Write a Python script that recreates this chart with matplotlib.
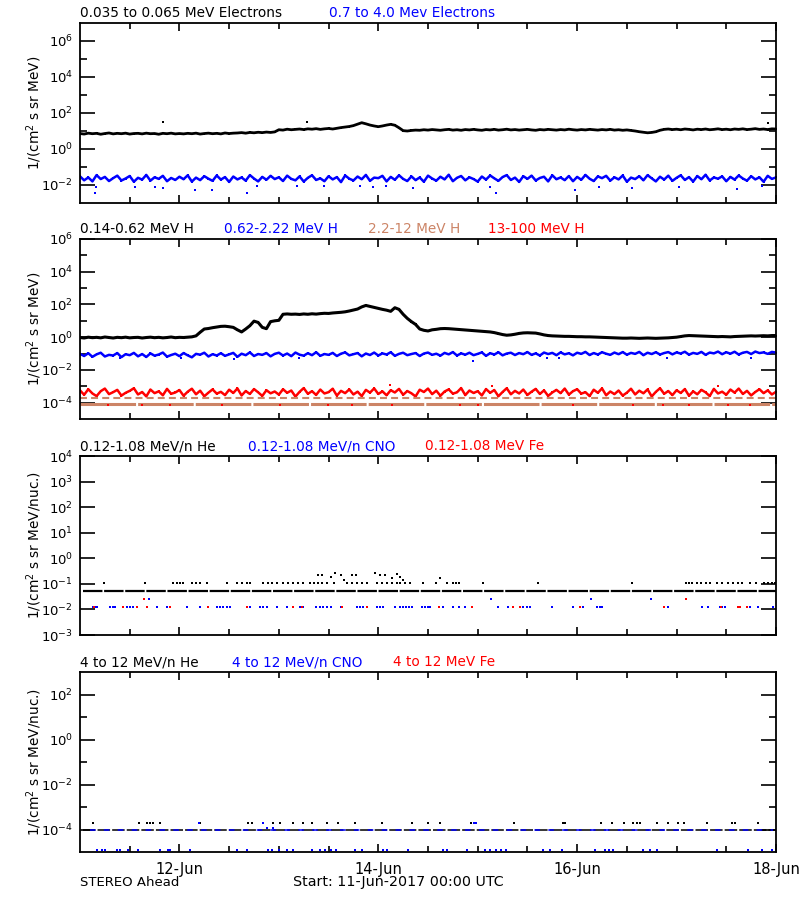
import numpy as np
from matplotlib import pyplot as plt
from matplotlib.ticker import NullFormatter, NullLocator

plt.rcParams['font.family'] = ['DejaVu Sans']
plt.rcParams['mathtext.fontset'] = 'dejavusans'
plt.rcParams['lines.scale_dashes'] = False

"""Section 1: Data (log10 of flux, read off the reference)"""
# hourly samples from 11-Jun 00:00 to 18-Jun 00:00
hours = np.arange(169)

elec_lo = [
    0.86, 0.83, 0.88, 0.85, 0.87, 0.82, 0.86, 0.89, 0.84, 0.87, 0.85, 0.88,
    0.83, 0.86, 0.87, 0.84, 0.88, 0.85, 0.86, 0.82, 0.87, 0.85, 0.88, 0.84,
    0.86, 0.84, 0.87, 0.85, 0.88, 0.83, 0.86, 0.88, 0.85, 0.87, 0.84, 0.89,
    0.86, 0.88, 0.89, 0.91, 0.88, 0.92, 0.90, 0.93, 0.91, 0.94, 0.92, 0.95,
    1.07, 1.05, 1.10, 1.07, 1.09, 1.11, 1.08, 1.12, 1.10, 1.13, 1.09, 1.12,
    1.14, 1.11, 1.15, 1.19, 1.22, 1.25, 1.30, 1.38, 1.46, 1.40, 1.33, 1.28,
    1.24, 1.28, 1.33, 1.37, 1.32, 1.18, 1.02, 1.00, 1.03, 1.05, 1.04, 1.07,
    1.05, 1.08, 1.06, 1.04, 1.07, 1.09, 1.05, 1.07, 1.04, 1.08, 1.06, 1.09,
    1.06, 1.04, 1.08, 1.06, 1.09, 1.05, 1.07, 1.10, 1.06, 1.08, 1.05, 1.07,
    1.09, 1.06, 1.04, 1.08, 1.06, 1.09, 1.07, 1.05, 1.08, 1.06, 1.10, 1.07,
    1.05, 1.08, 1.06, 1.09, 1.07, 1.05, 1.08, 1.06, 1.09, 1.05, 1.07, 1.04,
    1.06, 1.03, 1.00, 0.96, 0.93, 0.90, 0.92, 0.96, 1.04, 1.09, 1.11, 1.08,
    1.10, 1.07, 1.11, 1.09, 1.06, 1.10, 1.08, 1.11, 1.07, 1.09, 1.12, 1.08,
    1.10, 1.07, 1.11, 1.09, 1.12, 1.08, 1.10, 1.13, 1.09, 1.11, 1.08, 1.12, 1.11,
]
elec_lo_spike_t = [0.83, 2.28, 6.92]
elec_lo_spike_v = [1.50, 1.50, 1.43]

elec_hi = [
    -1.52, -1.74, -1.58, -1.80, -1.45, -1.67, -1.55, -1.78, -1.62, -1.48, -1.75, -1.64,
    -1.50, -1.82, -1.60, -1.70, -1.44, -1.76, -1.57, -1.66, -1.49, -1.79, -1.61, -1.72,
    -1.54, -1.68, -1.46, -1.81, -1.59, -1.73, -1.51, -1.65, -1.77, -1.47, -1.70, -1.56,
    -1.83, -1.53, -1.69, -1.58, -1.76, -1.45, -1.64, -1.80, -1.55, -1.71, -1.49, -1.67,
    -1.57, -1.78, -1.48, -1.66, -1.74, -1.52, -1.81, -1.60, -1.46, -1.72, -1.63, -1.79,
    -1.51, -1.69, -1.56, -1.84, -1.47, -1.65, -1.75, -1.53, -1.68, -1.44, -1.77, -1.59,
    -1.62, -1.49, -1.80, -1.55, -1.71, -1.46, -1.66, -1.78, -1.52, -1.73, -1.58, -1.82,
    -1.48, -1.64, -1.76, -1.54, -1.69, -1.43, -1.79, -1.60, -1.50, -1.74, -1.57, -1.67,
    -1.81, -1.53, -1.70, -1.47, -1.63, -1.77, -1.56, -1.45, -1.72, -1.59, -1.83, -1.51,
    -1.66, -1.48, -1.75, -1.61, -1.54, -1.80, -1.46, -1.68, -1.58, -1.73, -1.50, -1.79,
    -1.55, -1.71, -1.44, -1.65, -1.78, -1.52, -1.62, -1.49, -1.76, -1.57, -1.69, -1.47,
    -1.82, -1.59, -1.67, -1.51, -1.74, -1.45, -1.63, -1.80, -1.54, -1.70, -1.48, -1.77,
    -1.60, -1.46, -1.72, -1.56, -1.81, -1.50, -1.68, -1.43, -1.75, -1.58, -1.65, -1.52,
    -1.79, -1.55, -1.70, -1.47, -1.64, -1.76, -1.51, -1.69, -1.57, -1.82, -1.49, -1.66, -1.58,
]
elec_hi_low_t = [0.15, 0.16, 0.55, 0.75, 0.83, 1.16, 1.33, 1.68, 1.78, 2.18, 2.45,
                 2.82, 2.95, 3.08, 3.35, 4.12, 4.18, 4.98, 5.22, 5.55, 6.02, 6.61, 6.86]
elec_hi_low_v = [-2.44, -2.13, -2.13, -2.13, -2.16, -2.28, -2.28, -2.44, -2.05, -2.05, -2.05,
                 -2.05, -2.10, -2.05, -2.15, -2.13, -2.44, -2.28, -2.13, -2.16, -2.13, -2.20, -2.05]

prot_lo = [
    -0.02, -0.05, 0.00, -0.03, -0.01, -0.04, 0.01, -0.02, -0.05, -0.01, -0.03, 0.00,
    -0.04, -0.02, -0.01, -0.05, -0.02, 0.00, -0.03, -0.01, -0.04, -0.02, 0.01, -0.03,
    -0.01, -0.02, 0.00, 0.02, 0.08, 0.30, 0.50, 0.53, 0.58, 0.62, 0.66, 0.67,
    0.64, 0.60, 0.45, 0.32, 0.50, 0.70, 0.98, 0.90, 0.60, 0.52, 0.95, 1.00,
    1.03, 1.40, 1.42, 1.40, 1.41, 1.39, 1.42, 1.40, 1.43, 1.41, 1.44, 1.46,
    1.45, 1.48, 1.50, 1.52, 1.55, 1.60, 1.66, 1.72, 1.85, 1.94, 1.88, 1.82,
    1.76, 1.70, 1.65, 1.58, 1.80, 1.70, 1.40, 1.15, 0.95, 0.78, 0.50, 0.42,
    0.38, 0.45, 0.48, 0.52, 0.53, 0.52, 0.50, 0.48, 0.46, 0.44, 0.42, 0.40,
    0.38, 0.36, 0.34, 0.32, 0.28, 0.22, 0.16, 0.12, 0.14, 0.18, 0.23, 0.26,
    0.27, 0.26, 0.25, 0.20, 0.14, 0.10, 0.08, 0.07, 0.06, 0.05, 0.05, 0.04,
    0.03, 0.03, 0.02, 0.02, 0.01, 0.00, -0.01, -0.02, -0.03, -0.04, -0.05, -0.06,
    -0.06, -0.05, -0.06, -0.07, -0.06, -0.05, -0.06, -0.07, -0.06, -0.05, -0.04, -0.02,
    0.00, 0.04, 0.08, 0.10, 0.09, 0.08, 0.07, 0.06, 0.05, 0.04, 0.03, 0.04,
    0.03, 0.02, 0.04, 0.05, 0.06, 0.07, 0.08, 0.07, 0.08, 0.09, 0.08, 0.10, 0.10,
]

prot_mid = [
    -1.02, -1.15, -0.98, -1.20, -1.05, -0.95, -1.18, -1.08, -1.12, -0.97, -1.22, -1.04,
    -1.10, -0.96, -1.17, -1.03, -1.21, -0.99, -1.13, -1.06, -0.94, -1.19, -1.09, -1.01,
    -1.16, -0.97, -1.11, -1.23, -1.02, -1.07, -0.95, -1.18, -1.04, -1.12, -0.98, -1.14,
    -1.05, -0.96, -1.20, -1.01, -1.10, -0.93, -1.15, -1.03, -1.08, -0.97, -1.17, -1.02,
    -0.95, -1.12, -1.00, -1.16, -0.94, -1.07, -1.13, -0.98, -1.10, -0.92, -1.14, -1.03,
    -1.08, -0.96, -1.15, -1.01, -0.93, -1.11, -1.04, -0.97, -1.17, -1.00, -1.09, -0.94,
    -1.12, -0.99, -1.06, -0.92, -1.14, -1.02, -0.95, -1.10, -1.03, -0.97, -1.15, -1.00,
    -0.94, -1.08, -1.01, -1.13, -0.96, -1.05, -0.91, -1.12, -0.99, -1.07, -0.95, -1.10,
    -1.02, -0.93, -1.14, -0.98, -1.06, -0.92, -1.11, -1.00, -0.95, -1.09, -0.97, -1.04,
    -0.91, -1.08, -0.99, -1.12, -0.94, -1.03, -0.96, -1.10, -0.93, -1.05, -0.98, -1.11,
    -0.95, -1.02, -0.90, -1.09, -0.97, -1.06, -0.92, -1.01, -1.08, -0.94, -1.04, -0.91,
    -1.07, -0.96, -1.02, -0.90, -1.10, -0.95, -1.03, -0.92, -1.06, -0.97, -0.91, -1.05,
    -0.93, -1.00, -0.89, -1.07, -0.96, -1.02, -0.90, -1.08, -0.94, -0.99, -0.88, -1.04,
    -0.92, -1.01, -0.89, -1.06, -0.95, -0.90, -1.03, -0.88, -0.97, -0.93, -1.02, -0.90, -0.94,
]
prot_mid_low_t = [0.40, 1.02, 1.55, 2.20, 3.95, 4.70, 4.82, 5.90, 6.75]
prot_mid_low_v = [-1.30, -1.28, -1.32, -1.27, -1.45, -1.30, -1.28, -1.30, -1.30]

prot_top = [
    -3.25, -3.52, -3.18, -3.44, -3.60, -3.30, -3.14, -3.48, -3.36, -3.22, -3.57, -3.40,
    -3.28, -3.12, -3.50, -3.35, -3.62, -3.20, -3.42, -3.31, -3.55, -3.16, -3.46, -3.38,
    -3.23, -3.58, -3.33, -3.15, -3.49, -3.27, -3.61, -3.39, -3.19, -3.45, -3.34, -3.54,
    -3.21, -3.41, -3.13, -3.56, -3.29, -3.47, -3.17, -3.37, -3.59, -3.24, -3.43, -3.32,
    -3.51, -3.18, -3.40, -3.26, -3.63, -3.34, -3.11, -3.46, -3.30, -3.53, -3.20, -3.44,
    -3.36, -3.15, -3.57, -3.28, -3.42, -3.19, -3.50, -3.33, -3.60, -3.22, -3.39, -3.13,
    -3.47, -3.31, -3.55, -3.24, -3.38, -3.16, -3.52, -3.29, -3.43, -3.62, -3.21, -3.35,
    -3.14, -3.48, -3.27, -3.58, -3.32, -3.19, -3.45, -3.37, -3.11, -3.54, -3.26, -3.41,
    -3.30, -3.56, -3.17, -3.40, -3.23, -3.61, -3.35, -3.12, -3.49, -3.28, -3.44, -3.20,
    -3.53, -3.33, -3.16, -3.47, -3.25, -3.59, -3.38, -3.22, -3.42, -3.14, -3.51, -3.30,
    -3.18, -3.45, -3.36, -3.60, -3.21, -3.40, -3.13, -3.55, -3.32, -3.48, -3.26, -3.57,
    -3.39, -3.15, -3.50, -3.27, -3.43, -3.19, -3.62, -3.34, -3.12, -3.46, -3.29, -3.54,
    -3.24, -3.41, -3.17, -3.58, -3.31, -3.49, -3.22, -3.37, -3.60, -3.16, -3.44, -3.33,
    -3.52, -3.20, -3.39, -3.14, -3.47, -3.28, -3.56, -3.35, -3.18, -3.42, -3.25, -3.50, -3.34,
]
prot_top_low_t = [0.28, 0.62, 0.91, 1.43, 2.01, 2.49, 2.74, 3.14,
                  3.82, 4.00, 4.96, 5.56, 5.86, 6.12, 6.52, 6.74]
prot_top_high_t = [3.12, 4.14, 6.42]
prot_top_high_v = [-2.94, -3.00, -3.00]

# 2.2-12 MeV H sits on two count-floor levels
prot_hi_levels = [-3.71, -4.06]
prot_top_low_level = -4.15

# 0.12-1.08 MeV/n heavy ions
he_lo_level = -1.26
he_lo_step_t = [
    0.24, 0.65, 0.94, 0.98, 1.01, 1.04, 1.13, 1.17, 1.21, 1.28, 1.48, 1.58, 1.63,
    1.68, 1.71, 1.84, 1.89, 1.93, 1.98, 2.04, 2.09, 2.14, 2.19, 2.24, 2.31, 2.35,
    2.39, 2.43, 2.48, 2.55, 2.69, 2.74, 2.79, 2.84, 2.89, 2.99, 3.04, 3.09, 3.14,
    3.19, 3.22, 3.27, 3.32, 3.45, 3.58, 3.69, 3.75, 3.78, 3.81, 4.05, 4.61, 5.55,
    6.09, 6.12, 6.16, 6.21, 6.25, 6.30, 6.34, 6.41, 6.46, 6.52, 6.57, 6.62, 6.66,
    6.74, 6.80, 6.88, 6.92, 6.96, 6.99,
]
he_lo_step_level = -0.95
he_lo_high_t = [2.39, 2.43, 2.52, 2.56, 2.62, 2.66, 2.74, 2.78,
                2.97, 3.02, 3.07, 3.14, 3.19, 3.22, 3.25, 3.62]
he_lo_high_v = [-0.65, -0.65, -0.73, -0.57, -0.65, -0.84, -0.65, -0.65,
                -0.57, -0.65, -0.65, -0.77, -0.62, -0.73, -0.84, -0.77]
cno_lo_t = [
    0.13, 0.15, 0.17, 0.30, 0.33, 0.35, 0.47, 0.50, 0.53, 0.57, 0.67, 0.77, 0.88,
    0.91, 1.08, 1.21, 1.38, 1.41, 1.44, 1.48, 1.51, 1.68, 1.71, 1.81, 1.84, 1.88,
    1.98, 2.08, 2.14, 2.21, 2.24, 2.37, 2.41, 2.44, 2.48, 2.52, 2.62, 2.79, 2.82,
    2.85, 2.89, 2.99, 3.02, 3.05, 3.17, 3.22, 3.25, 3.28, 3.31, 3.34, 3.44, 3.47,
    3.50, 3.52, 3.61, 3.65, 3.75, 3.81, 3.87, 4.20, 4.30, 4.43, 4.46, 4.50, 4.53,
    4.75, 4.96, 5.06, 5.20, 5.23, 5.25, 5.87, 5.91, 6.26, 6.32, 6.44, 6.46, 6.49,
    6.64, 6.74, 6.82, 6.97,
]
fe_lo_t = [0.14, 0.43, 0.57, 0.67, 0.91, 1.29, 1.68, 2.14, 2.23, 2.64, 2.89,
           3.61, 3.94, 4.35, 4.43, 5.03, 5.87, 6.45, 6.62, 6.64, 6.71]
heavy_lo_level = -1.92
cno_lo_up_t = [0.69, 4.13, 5.14, 5.74]
fe_lo_up_t = [0.64, 6.09]
heavy_lo_up_level = -1.61

# 4-12 MeV/n heavy ions
he_hi_level = -4.0
he_hi_step_t = [
    0.13, 0.59, 0.67, 0.70, 0.73, 0.80, 1.21, 1.69, 1.73, 1.84, 1.94, 2.01, 2.14,
    2.24, 2.33, 2.48, 2.59, 2.77, 3.04, 3.34, 3.50, 3.62, 3.93, 4.36, 4.86, 4.88,
    5.24, 5.35, 5.47, 5.56, 5.60, 5.63, 5.80, 5.91, 6.01, 6.07, 6.31, 6.56, 6.59, 6.82,
]
he_hi_step_level = -3.72
cno_hi_step_t = [1.20, 1.84, 3.96, 3.98]
cno_hi_mid_t = [1.88, 1.94]
cno_hi_mid_level = -3.94
cno_hi_low_t = [
    0.17, 0.22, 0.25, 0.37, 0.40, 0.48, 0.58, 0.80, 0.89, 0.91, 1.11, 1.58, 1.68,
    1.89, 1.93, 2.00, 2.08, 2.14, 2.33, 2.41, 2.46, 2.52, 2.57, 2.77, 2.84, 3.05,
    3.09, 3.30, 3.65, 3.69, 3.89, 4.07, 4.12, 4.18, 4.23, 4.28, 4.66, 4.73, 4.85,
    5.18, 5.28, 5.32, 5.36, 5.66, 5.73, 5.80, 6.41, 6.72, 6.86, 6.96,
]
cno_hi_low_level = -4.9

date_ticks = [1, 3, 5, 7]
date_labels = ["12-Jun", "14-Jun", "16-Jun", "18-Jun"]

"""Section 2: Figure layout"""
W, H = 800, 900
BLUE = "#0000ff"
RED = "#ff0000"
SIENNA = "#cc8466"

fig = plt.figure(figsize=(W / 100, H / 100), dpi=100)


def px_axes(top, bottom):
    return fig.add_axes([80 / W, 1 - bottom / H, 696 / W, (bottom - top) / H])


def style_axes(ax, ylim, major, minor, show_dates=False):
    ax.set_xlim(0, 7)
    ax.set_yscale("log")
    ax.set_ylim(10.0 ** ylim[0], 10.0 ** ylim[1])
    ax.yaxis.set_minor_locator(NullLocator())
    ax.set_yticks([10.0 ** e for e in major])
    ax.set_yticklabels(["$10^{%d}$" % e for e in major])
    ax.set_yticks([10.0 ** e for e in minor], minor=True)
    ax.yaxis.set_minor_formatter(NullFormatter())
    ax.set_xticks(date_ticks)
    ax.set_xticks(np.arange(0.5, 7, 0.5), minor=True)
    if show_dates:
        ax.set_xticklabels(date_labels)
    else:
        ax.set_xticklabels([])
    ax.tick_params(which="both", direction="in", top=True, right=True,
                   width=1.2, colors="black")
    ax.tick_params(axis="y", which="major", length=11, pad=5, labelsize=9.5)
    ax.tick_params(axis="y", which="minor", length=5)
    ax.tick_params(axis="x", which="major", length=6, pad=7, labelsize=10.5)
    ax.tick_params(axis="x", which="minor", length=4)
    for s in ax.spines.values():
        s.set_linewidth(1.3)


def band(ax, values, color, lw=1.8):
    ax.plot(hours / 24, 10.0 ** np.array(values), c=color, lw=lw,
            marker="s", ms=2, mew=0)


def dots(ax, t, v, color, ms=1.7):
    ax.plot(t, 10.0 ** np.array(v), ls="none", marker="s", ms=ms, mew=0, c=color)


def level_dots(ax, t, level, color, ms=1.7):
    dots(ax, t, [level] * len(t), color, ms)


def title_row(y, parts):
    for x, text, color in parts:
        fig.text(x / W, 1 - y / H, text, color=color, fontsize=9.8,
                 ha="left", va="center")


def ylabel(y, text):
    fig.text(34 / W, 1 - y / H, text, rotation=90, fontsize=9.8,
             ha="center", va="center")


"""Section 3: Panel 1 - electrons"""
ax1 = px_axes(23, 203)
band(ax1, elec_hi, BLUE)
dots(ax1, elec_hi_low_t, elec_hi_low_v, BLUE)
band(ax1, elec_lo, "black", lw=2.0)
dots(ax1, elec_lo_spike_t, elec_lo_spike_v, "black")
style_axes(ax1, (-3, 7), [-2, 0, 2, 4, 6], [-1, 1, 3, 5])
title_row(13, [(80, "0.035 to 0.065 MeV Electrons", "black"),
               (329, "0.7 to 4.0 Mev Electrons", BLUE)])
ylabel(113, "1/(cm$^2$ s sr MeV)")

"""Section 4: Panel 2 - protons"""
ax2 = px_axes(239, 419)
ax2.plot([0, 7], [10.0 ** prot_hi_levels[1]] * 2, c=SIENNA, lw=2.2,
         dashes=(40, 1.5))
band(ax2, prot_top, RED)
level_dots(ax2, prot_top_low_t, prot_top_low_level, RED)
dots(ax2, prot_top_high_t, prot_top_high_v, RED)
ax2.plot([0, 7], [10.0 ** prot_hi_levels[0]] * 2, c=SIENNA, lw=1.5,
         dashes=(5, 3))
band(ax2, prot_mid, BLUE)
dots(ax2, prot_mid_low_t, prot_mid_low_v, BLUE)
band(ax2, prot_lo, "black", lw=2.2)
style_axes(ax2, (-5, 6), [-4, -2, 0, 2, 4, 6], [-3, -1, 1, 3, 5])
title_row(229, [(80, "0.14-0.62 MeV H", "black"),
                (224, "0.62-2.22 MeV H", BLUE),
                (368, "2.2-12 MeV H", SIENNA),
                (488, "13-100 MeV H", RED)])
ylabel(329, "1/(cm$^2$ s sr MeV)")

"""Section 5: Panel 3 - low energy heavy ions"""
ax3 = px_axes(456, 635)
ax3.plot([0.03, 7.0], [10.0 ** he_lo_level] * 2, c="black", lw=1.6,
         dashes=(14, 1.2))
level_dots(ax3, he_lo_step_t, he_lo_step_level, "black")
dots(ax3, he_lo_high_t, he_lo_high_v, "black")
level_dots(ax3, cno_lo_t, heavy_lo_level, BLUE, ms=1.8)
level_dots(ax3, fe_lo_t, heavy_lo_level, RED, ms=1.8)
level_dots(ax3, cno_lo_up_t, heavy_lo_up_level, BLUE, ms=1.8)
level_dots(ax3, fe_lo_up_t, heavy_lo_up_level, RED, ms=1.8)
style_axes(ax3, (-3, 4), [-3, -2, -1, 0, 1, 2, 3, 4], [])
title_row(446, [(80, "0.12-1.08 MeV/n He", "black"),
                (248, "0.12-1.08 MeV/n CNO", BLUE),
                (425, "0.12-1.08 MeV Fe", RED)])
ylabel(545, "1/(cm$^2$ s sr MeV/nuc.)")

"""Section 6: Panel 4 - high energy heavy ions"""
ax4 = px_axes(672, 852)
ax4.plot([0.03, 7.0], [10.0 ** he_hi_level] * 2, c="black", lw=1.1,
         dashes=(9, 1.5))
ax4.plot([0.1, 6.97], [10.0 ** he_hi_level] * 2, c=BLUE, lw=1.1,
         dashes=(4, 6))
level_dots(ax4, he_hi_step_t, he_hi_step_level, "black", ms=1.5)
level_dots(ax4, cno_hi_step_t, he_hi_step_level, BLUE, ms=1.5)
level_dots(ax4, cno_hi_mid_t, cno_hi_mid_level, BLUE, ms=1.5)
level_dots(ax4, cno_hi_low_t, cno_hi_low_level, BLUE, ms=1.5)
style_axes(ax4, (-5, 3), [-4, -2, 0, 2], [-3, -1, 1], show_dates=True)
title_row(662, [(80, "4 to 12 MeV/n He", "black"),
                (232, "4 to 12 MeV/n CNO", BLUE),
                (393, "4 to 12 MeV Fe", RED)])
ylabel(762, "1/(cm$^2$ s sr MeV/nuc.)")

fig.text(80 / W, 1 - 882 / H, "STEREO Ahead", fontsize=9.5, ha="left", va="center")
fig.text(293 / W, 1 - 882 / H, "Start: 11-Jun-2017 00:00 UTC", fontsize=10.3,
         ha="left", va="center")

fig.savefig("out.png", dpi=100)
